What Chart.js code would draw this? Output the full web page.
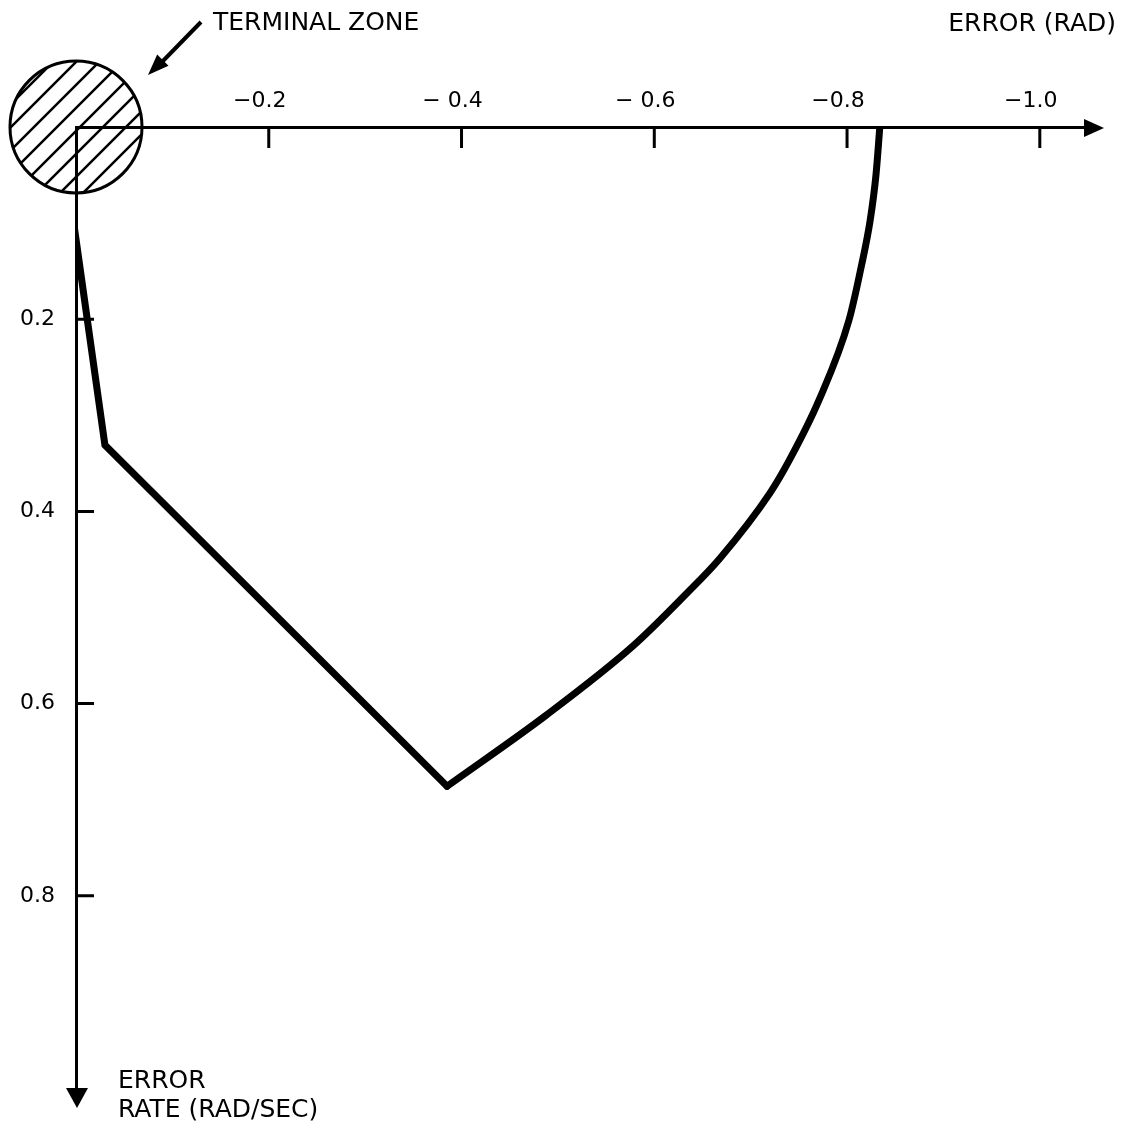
<!DOCTYPE html>
<html>
<head>
<meta charset="utf-8">
<script src="https://cdn.jsdelivr.net/npm/chart.js@4.4.1/dist/chart.umd.min.js"></script>
<style>
html, body { margin: 0; padding: 0; background: #fff; }
#wrap { width: 1128px; height: 1124px; }
</style>
</head>
<body>
<div id="wrap"><canvas id="phasePlane"></canvas></div>
<script>
const xTicks = [-0.2, -0.4, -0.6, -0.8, -1.0];
const xTickLabels = ['\u22120.2', '\u2212 0.4', '\u2212 0.6', '\u22120.8', '\u22121.0'];
const yTicks = [0.2, 0.4, 0.6, 0.8];
const yTickLabels = ['0.2', '0.4', '0.6', '0.8'];

// switching line: two straight legs, then the curved leg back up to the error axis
const legX = [0.006, -0.030, -0.385];
const legY = [0.074, 0.331, 0.686];
const arcX = [-0.385, -0.488, -0.578, -0.633, -0.668, -0.720, -0.740, -0.771, -0.802, -0.815, -0.824, -0.830, -0.834];
const arcY = [0.686, 0.612, 0.540, 0.486, 0.449, 0.381, 0.347, 0.284, 0.201, 0.144, 0.097, 0.050, 0.0];

// terminal zone, centred on the origin
const zoneX = [0];
const zoneY = [0];

const FONT = '"DejaVu Sans", sans-serif';

function pairs(xs, ys) {
	return xs.map(function (x, i) { return { x: x, y: ys[i] }; });
}

function hatchPattern() {
	const tile = document.createElement('canvas');
	tile.width = 23;
	tile.height = 23;
	const t = tile.getContext('2d');
	t.strokeStyle = '#000';
	t.lineWidth = 2.5;
	t.beginPath();
	t.moveTo(-2, 25); t.lineTo(25, -2);
	t.moveTo(-2, 2); t.lineTo(2, -2);
	t.moveTo(21, 25); t.lineTo(25, 21);
	t.stroke();
	return t.createPattern(tile, 'repeat');
}

function arrowHead(ctx, tx, ty, angle, len, half) {
	ctx.save();
	ctx.translate(tx, ty);
	ctx.rotate(angle);
	ctx.beginPath();
	ctx.moveTo(0, 0);
	ctx.lineTo(-len, -half);
	ctx.lineTo(-len, half);
	ctx.closePath();
	ctx.fill();
	ctx.restore();
}

const decorations = {
	id: 'decorations',
	afterDraw: function (chart) {
		const ctx = chart.ctx;
		const area = chart.chartArea;
		const xs = chart.scales.x;
		const ys = chart.scales.y;
		ctx.save();
		ctx.fillStyle = '#000';
		ctx.strokeStyle = '#000';

		// tick marks point into the plot
		ctx.lineWidth = 3;
		ctx.beginPath();
		xTicks.forEach(function (v) {
			const px = xs.getPixelForValue(v);
			ctx.moveTo(px, area.top);
			ctx.lineTo(px, area.top + 21);
		});
		yTicks.forEach(function (v) {
			const py = ys.getPixelForValue(v);
			ctx.moveTo(area.left, py);
			ctx.lineTo(area.left + 18, py);
		});
		ctx.stroke();

		// axis arrows
		ctx.lineWidth = 3;
		ctx.beginPath();
		ctx.moveTo(area.right, area.top);
		ctx.lineTo(area.right + 5, area.top);
		ctx.moveTo(area.left, area.bottom);
		ctx.lineTo(area.left, area.bottom + 5);
		ctx.stroke();
		arrowHead(ctx, area.right + 16, area.top + 1, 0, 20, 9);
		arrowHead(ctx, area.left + 1, area.bottom + 20, Math.PI / 2, 20, 11);

		// labels
		ctx.font = '25px ' + FONT;
		ctx.textBaseline = 'alphabetic';
		ctx.textAlign = 'left';
		ctx.fillText('TERMINAL ZONE', 213, 30);
		ctx.textAlign = 'right';
		ctx.fillText('ERROR (RAD)', 1116, 31);
		ctx.textAlign = 'left';
		ctx.fillText('ERROR', 118, 1088);
		ctx.fillText('RATE (RAD/SEC)', 118, 1117);

		// pointer to the terminal zone
		ctx.lineWidth = 4;
		ctx.beginPath();
		ctx.moveTo(201, 22);
		ctx.lineTo(160, 64);
		ctx.stroke();
		arrowHead(ctx, 148, 75, Math.atan2(75 - 22, 148 - 201), 21, 8);
		ctx.restore();
	}
};

const chart = new Chart(document.getElementById('phasePlane').getContext('2d'), {
	type: 'scatter',
	data: {
		datasets: [
			{
				label: 'Switching line',
				data: pairs(legX, legY),
				showLine: true,
				tension: 0,
				borderColor: '#000',
				borderWidth: 7,
				borderJoinStyle: 'miter',
				borderCapStyle: 'round',
				pointRadius: 0,
			},
			{
				label: 'Switching curve',
				data: pairs(arcX, arcY),
				showLine: true,
				cubicInterpolationMode: 'monotone',
				borderColor: '#000',
				borderWidth: 7,
				borderCapStyle: 'round',
				pointRadius: 0,
			},
			{
				label: 'Terminal zone',
				data: pairs(zoneX, zoneY),
				showLine: false,
				pointRadius: 66,
				pointBorderWidth: 3,
				pointBorderColor: '#000',
				pointBackgroundColor: hatchPattern(),
				clip: false,
			},
		],
	},
	options: {
		responsive: true,
		maintainAspectRatio: false,
		animation: false,
		events: [],
		layout: {
			autoPadding: false,
			padding: { left: 0, top: 0, right: 40, bottom: 36 },
		},
		plugins: {
			legend: { display: false },
			tooltip: { enabled: false },
			title: { display: false },
		},
		scales: {
			x: {
				type: 'linear',
				position: 'top',
				reverse: true,
				min: -1.05,
				max: 0,
				afterBuildTicks: function (scale) {
					scale.ticks = xTicks.map(function (v) { return { value: v }; });
				},
				afterFit: function (scale) {
					scale.height = 127;
					scale.paddingLeft = 0;
					scale.paddingRight = 0;
				},
				grid: { display: false, drawTicks: false },
				border: { display: true, color: '#000', width: 3 },
				ticks: {
					color: '#000',
					font: { family: FONT, size: 22 },
					padding: 13,
					labelOffset: -9,
					maxRotation: 0,
					callback: function (value, index) {
						return xTickLabels[index];
					},
				},
			},
			y: {
				type: 'linear',
				position: 'left',
				reverse: true,
				min: 0,
				max: 1.0,
				afterBuildTicks: function (scale) {
					scale.ticks = yTicks.map(function (v) { return { value: v }; });
				},
				afterFit: function (scale) {
					scale.width = 76;
					scale.paddingTop = 0;
					scale.paddingBottom = 0;
				},
				grid: { display: false, drawTicks: false },
				border: { display: true, color: '#000', width: 3 },
				ticks: {
					color: '#000',
					font: { family: FONT, size: 22 },
					padding: 21,
					callback: function (value, index) {
						return yTickLabels[index];
					},
				},
			},
		},
	},
	plugins: [decorations],
});
</script>
</body>
</html>
